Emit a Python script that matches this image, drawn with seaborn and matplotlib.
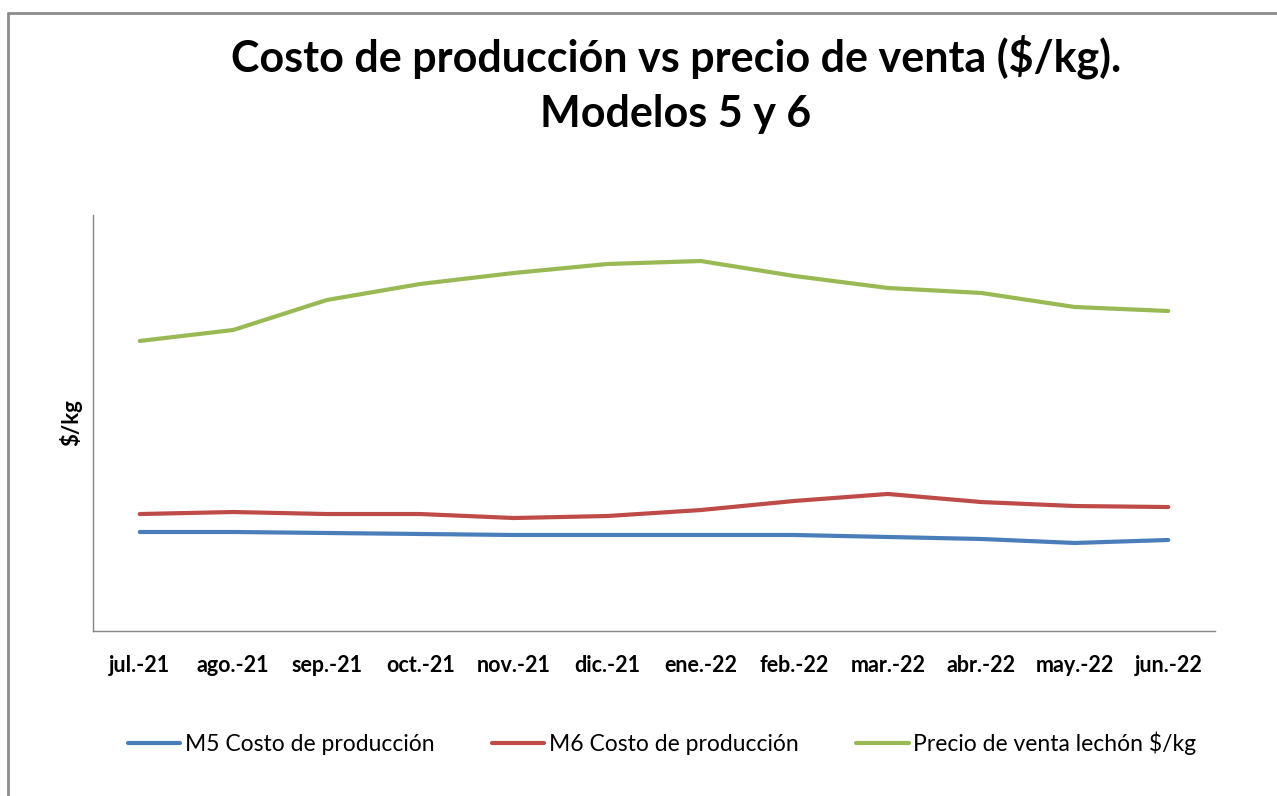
import numpy as np
import pandas as pd
import matplotlib.pyplot as plt
import seaborn as sns
from matplotlib.lines import Line2D

months = ['jul.-21', 'ago.-21', 'sep.-21', 'oct.-21', 'nov.-21', 'dic.-21',
          'ene.-22', 'feb.-22', 'mar.-22', 'abr.-22', 'may.-22', 'jun.-22']

# $/kg (no axis scale shown, estimated)
m5_costo = [119.0, 119.0, 117.8, 116.6, 115.4, 115.4, 115.4, 115.4, 113.0, 110.6, 105.8, 109.4]
m6_costo = [140.6, 143.0, 140.6, 140.6, 135.8, 138.2, 145.4, 156.3, 164.7, 155.0, 150.2, 149.0]
precio_lechon = [348.6, 361.8, 397.8, 417.1, 430.3, 441.1, 444.7, 426.7, 412.3, 406.3, 389.4, 384.6]

series_names = ['M5 Costo de producción', 'M6 Costo de producción', 'Precio de venta lechón $/kg']
colors = ['#4a7ebb', '#be4b48', '#98b954']

df = pd.DataFrame({
    'Mes': months * 3,
    'valor': m5_costo + m6_costo + precio_lechon,
    'Serie': [series_names[0]] * 12 + [series_names[1]] * 12 + [series_names[2]] * 12,
})

sns.set_theme(style='white', rc={'text.color': 'black', 'axes.labelcolor': 'black',
                                 'xtick.color': 'black', 'ytick.color': 'black'})
plt.rcParams['font.family'] = ['Lato', 'DejaVu Sans']

fig = plt.figure(figsize=(12.77, 7.96), dpi=100)
ax = fig.add_axes([93 / 1277, 1 - 631 / 796, 1122 / 1277, 416 / 796])

sns.lineplot(data=df, x='Mes', y='valor', hue='Serie', hue_order=series_names,
             palette=colors, linewidth=3, ax=ax, sort=False, legend=True)

ax.set_xlim(-0.5, 11.5)
ax.set_ylim(0, 500)
ax.set_yticks([])
ax.set_xlabel('')
ax.set_ylabel('$/kg', fontsize=16, fontweight='bold', labelpad=8)
ax.tick_params(axis='x', length=0, pad=17, labelsize=15.5)
for t in ax.get_xticklabels():
    t.set_fontweight('bold')
for s in ['top', 'right']:
    ax.spines[s].set_visible(False)
for s in ['left', 'bottom']:
    ax.spines[s].set_color('#868686')
    ax.spines[s].set_linewidth(1)

handles, labels = ax.get_legend_handles_labels()
ax.get_legend().remove()
fig.legend(handles, labels, loc='center', bbox_to_anchor=(662 / 1277, 1 - 743 / 796),
           ncol=3, frameon=False, fontsize=16.5, handlelength=2.3, columnspacing=2.5,
           handletextpad=0.2)

fig.text(676 / 1277, 1 - 84 / 796, 'Costo de producción vs precio de venta ($/kg).\nModelos 5 y 6',
         ha='center', va='center', fontsize=31, fontweight='bold', linespacing=1.45)

# outer chart frame (left and top edges visible)
fig.lines.append(Line2D([8 / 1277, 8 / 1277], [0, 1 - 13 / 796], transform=fig.transFigure,
                        color='#8c8c8c', linewidth=2))
fig.lines.append(Line2D([8 / 1277, 1], [1 - 13 / 796, 1 - 13 / 796], transform=fig.transFigure,
                        color='#8c8c8c', linewidth=2))

fig.savefig('out.png', dpi=100)
